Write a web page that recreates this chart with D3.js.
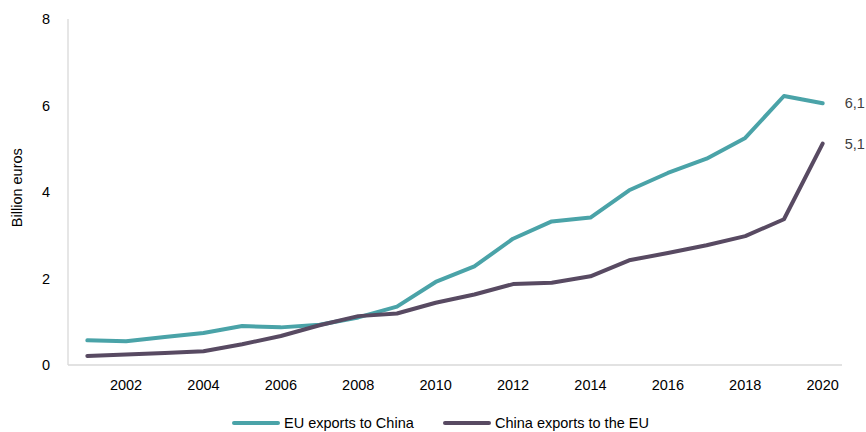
<!DOCTYPE html>
<html>
<head>
<meta charset="utf-8">
<script src="https://cdn.jsdelivr.net/npm/d3@7"></script>
<style>
  body { margin: 0; background: #fff; }
  text { font-family: "Liberation Sans", Arial, sans-serif; }
</style>
</head>
<body>
<div id="chart"></div>
<script>
// values, billion euros
var years = [2001, 2002, 2003, 2004, 2005, 2006, 2007, 2008, 2009, 2010,
             2011, 2012, 2013, 2014, 2015, 2016, 2017, 2018, 2019, 2020];
var euToChina = [0.57, 0.55, 0.65, 0.74, 0.9, 0.87, 0.93, 1.1, 1.35, 1.92,
                 2.28, 2.92, 3.32, 3.41, 4.04, 4.44, 4.77, 5.25, 6.22, 6.05];
var chinaToEu = [0.21, 0.24, 0.28, 0.32, 0.48, 0.67, 0.92, 1.13, 1.19, 1.44,
                 1.63, 1.87, 1.9, 2.05, 2.42, 2.59, 2.77, 2.98, 3.37, 5.12];
var yTicks = [0, 2, 4, 6, 8];
var xTickLabels = [2002, 2004, 2006, 2008, 2010, 2012, 2014, 2016, 2018, 2020];
var seriesNames = ["EU exports to China", "China exports to the EU"];
var endLabels = ["6,1", "5,1"];

(function() {
	var W = 866, H = 432;
	var margin = { top: 19, left: 68, right: 24, bottom: 67 },
		width = W - margin.left - margin.right,
		height = H - margin.top - margin.bottom;

	var colors = ["#4aa3a8", "#584a62"];
	var fs = 14.5;

	var svg = d3.select("#chart")
				.append("svg")
				.attr("width", W)
				.attr("height", H);

	var g = svg.append("g")
				.attr("transform", "translate(" + margin.left + "," + margin.top + ")");

	var xScale = d3.scaleBand().domain(years).range([0, width]);
	var yScale = d3.scaleLinear().domain([0, 8]).range([height, 0]);

	// axes lines
	g.append("line")
		.attr("x1", 0).attr("x2", 0)
		.attr("y1", 0).attr("y2", height)
		.attr("stroke", "#d9d9d9").attr("stroke-width", 1.3);
	g.append("line")
		.attr("x1", 0).attr("x2", width)
		.attr("y1", height).attr("y2", height)
		.attr("stroke", "#d9d9d9").attr("stroke-width", 1.3);

	// y tick labels
	g.selectAll(".ylab")
		.data(yTicks)
		.enter()
		.append("text")
		.attr("x", -18)
		.attr("y", function(d) { return yScale(d); })
		.attr("dy", "0.35em")
		.attr("text-anchor", "end")
		.attr("font-size", fs)
		.attr("fill", "#000")
		.text(function(d) { return d; });

	// x tick labels
	g.selectAll(".xlab")
		.data(xTickLabels)
		.enter()
		.append("text")
		.attr("x", function(d) { return xScale(d) + xScale.bandwidth() / 2; })
		.attr("y", height + 25)
		.attr("text-anchor", "middle")
		.attr("font-size", fs)
		.attr("fill", "#000")
		.text(function(d) { return d; });

	// y title
	svg.append("text")
		.attr("transform", "translate(22," + (margin.top + yScale(4.1)) + ") rotate(-90)")
		.attr("text-anchor", "middle")
		.attr("font-size", fs)
		.attr("fill", "#000")
		.text("Billion euros");

	var line = d3.line()
		.x(function(d, i) { return xScale(years[i]) + xScale.bandwidth() / 2; })
		.y(function(d) { return yScale(d); });

	var allSeries = [euToChina, chinaToEu];

	g.selectAll(".series")
		.data(allSeries)
		.enter()
		.append("path")
		.attr("d", line)
		.attr("fill", "none")
		.attr("stroke", function(d, i) { return colors[i]; })
		.attr("stroke-width", 4)
		.attr("stroke-linejoin", "round")
		.attr("stroke-linecap", "round");

	// end labels
	var last = years.length - 1;
	g.selectAll(".endlab")
		.data(allSeries)
		.enter()
		.append("text")
		.attr("x", xScale(years[last]) + xScale.bandwidth() / 2 + 22)
		.attr("y", function(d) { return yScale(d[last]); })
		.attr("dy", "0.35em")
		.attr("font-size", fs)
		.attr("fill", "#404040")
		.text(function(d, i) { return endLabels[i]; });

	// legend
	var legX = [234, 445];
	var leg = svg.selectAll(".leg")
		.data(seriesNames)
		.enter()
		.append("g")
		.attr("transform", function(d, i) { return "translate(" + legX[i] + ",423)"; });
	leg.append("line")
		.attr("x1", 0).attr("x2", 44)
		.attr("stroke", function(d, i) { return colors[i]; })
		.attr("stroke-width", 4)
		.attr("stroke-linecap", "round");
	leg.append("text")
		.attr("x", 50)
		.attr("dy", "0.35em")
		.attr("font-size", fs)
		.attr("fill", "#000")
		.text(function(d) { return d; });
})();
</script>
</body>
</html>
